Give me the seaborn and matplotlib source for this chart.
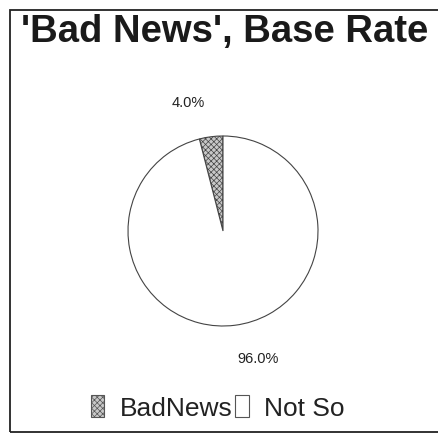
import numpy as np
import matplotlib
matplotlib.use("Agg")
import matplotlib.pyplot as plt
from matplotlib.patches import Rectangle, Patch
import seaborn as sns

# Data
categories = ["BadNews", "Not So"]
values = [4.0, 96.0]
title_text = "'Bad News', Base Rate"

sns.set_theme(style="white")
plt.rcParams['font.family'] = ['Liberation Sans', 'DejaVu Sans']
plt.rcParams['hatch.linewidth'] = 0.5

W, H = 438, 437
fig = plt.figure(figsize=(W / 100, H / 100), dpi=100)
fig.patch.set_facecolor('white')

# outer frame
fig.patches.append(Rectangle((10 / W, 5 / H), 1.0, 1 - 15 / H, transform=fig.transFigure,
                             fill=False, edgecolor='#222222', linewidth=1.3))

# pie axes: centre (223, 231) px, radius 95 px
R = 95
span = 1.5
size = 2 * span * R
cx, cy = 223, 231
ax = fig.add_axes([(cx - size / 2) / W, (H - cy - size / 2) / H, size / W, size / H])

face = ['#c8c8c8', 'white']
hatches = ['xxxxxx', '']
wedges, texts, autotexts = ax.pie(values, startangle=90, counterclock=True,
                                  colors=face, autopct='%1.1f%%', pctdistance=1.4,
                                  wedgeprops=dict(edgecolor='#444444', linewidth=0.8),
                                  textprops=dict(fontsize=10.5, color='#222222'))
for w, h in zip(wedges, hatches):
    w.set_hatch(h)

# labels sit slightly rotated from slice mid-angle in the reference
offset = np.deg2rad(8)
for t in autotexts:
    x, y = t.get_position()
    t.set_position((x * np.cos(offset) - y * np.sin(offset), x * np.sin(offset) + y * np.cos(offset)))

ax.set_xlim(-span, span)
ax.set_ylim(-span, span)
ax.set_aspect('equal')
ax.axis('off')

fig.text(225 / W, 1 - 32 / H, title_text, ha='center', va='center',
         fontsize=27.5, fontweight='bold', color='#1a1a1a')

handles = [Patch(facecolor=face[i], hatch=hatches[i], edgecolor='#555555', linewidth=0.8)
           for i in range(len(categories))]
fig.legend(handles, categories, loc='center', bbox_to_anchor=(218 / W, 1 - 408 / H),
           ncol=2, frameon=False, fontsize=19, handlelength=0.5, handleheight=0.9,
           handletextpad=0.6, columnspacing=0.1, labelcolor='#222222')

fig.savefig('out.png', dpi=100, facecolor='white')
